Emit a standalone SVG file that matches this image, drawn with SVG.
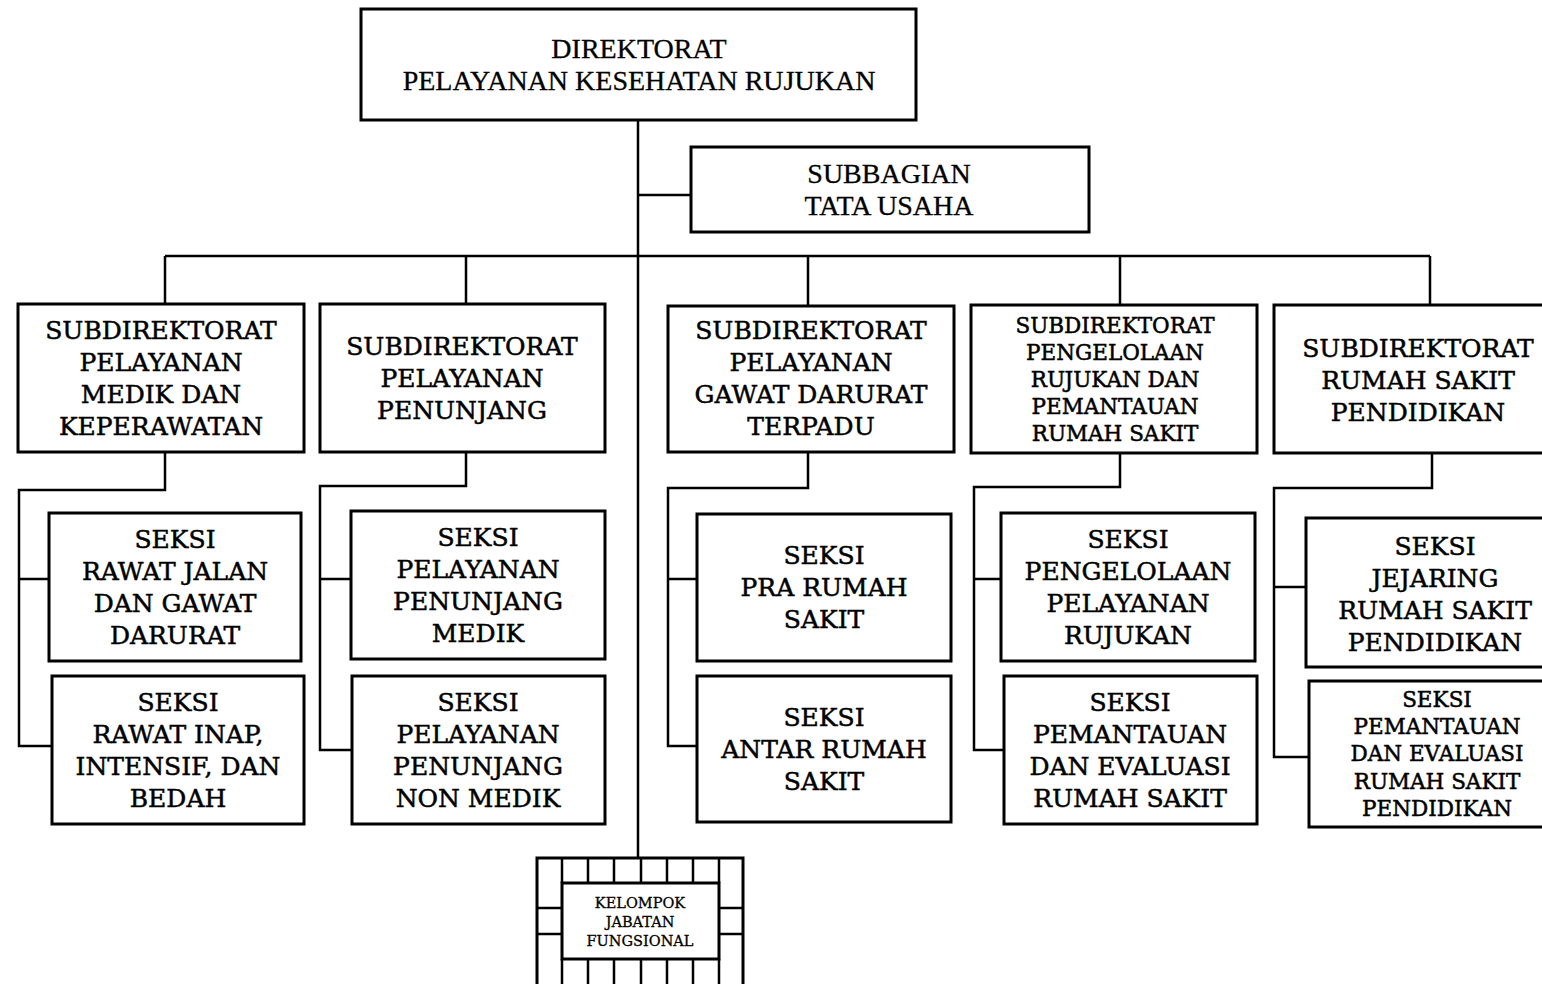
<svg xmlns="http://www.w3.org/2000/svg" width="1542" height="984" viewBox="0 0 1542 984">
<style>
.box{fill:#fff;stroke:#000;stroke-width:3}
.ln{fill:none;stroke:#000;stroke-width:2.5}
text{font-family:"DejaVu Serif","Liberation Serif",serif;fill:#000;stroke:#000;stroke-width:0.5;text-anchor:middle;dominant-baseline:central}
.t{font-size:25px}
.s{font-size:21.5px}
.hd{font-family:"Liberation Serif",serif;font-size:28px;stroke-width:0.3}
.k{font-size:14.5px;stroke-width:0.3}
</style>
<rect width="1542" height="984" fill="#fff"/>
<g id="connectors">
<path class="ln" d="M638 120V858"/>
<path class="ln" d="M638 195H691"/>
<path class="ln" d="M165 256H1430M165 256V304M466 256V304M808 256V306M1120 256V305M1430 256V305"/>
<path class="ln" d="M165 452V490H19V746H52M19 579H49"/>
<path class="ln" d="M466 452V486H320V750H352M320 579H351"/>
<path class="ln" d="M808 452V488H668V746H697M668 579H697"/>
<path class="ln" d="M1120 453V487H974V750H1004M974 579H1001"/>
<path class="ln" d="M1432 453V488H1274V757H1309M1274 587H1306"/>
</g>
<g id="direktorat">
<rect class="box" x="361" y="9" width="555" height="111"/>
<text class="hd" x="639" y="48">DIREKTORAT</text>
<text class="hd" x="639" y="80">PELAYANAN KESEHATAN RUJUKAN</text>
</g>
<g id="subbagian">
<rect class="box" x="691" y="147" width="398" height="85"/>
<text class="hd" x="889" y="173">SUBBAGIAN</text>
<text class="hd" x="889" y="205">TATA USAHA</text>
</g>
<g id="subdit1">
<rect class="box" x="18" y="304" width="286" height="148"/>
<text class="t" x="161" y="330">SUBDIREKTORAT</text>
<text class="t" x="161" y="362">PELAYANAN</text>
<text class="t" x="161" y="394">MEDIK DAN</text>
<text class="t" x="161" y="426">KEPERAWATAN</text>
</g>
<g id="subdit2">
<rect class="box" x="320" y="304" width="285" height="148"/>
<text class="t" x="462" y="346">SUBDIREKTORAT</text>
<text class="t" x="462" y="378">PELAYANAN</text>
<text class="t" x="462" y="410">PENUNJANG</text>
</g>
<g id="subdit3">
<rect class="box" x="668" y="306" width="286" height="146"/>
<text class="t" x="811" y="330">SUBDIREKTORAT</text>
<text class="t" x="811" y="362">PELAYANAN</text>
<text class="t" x="811" y="394">GAWAT DARURAT</text>
<text class="t" x="811" y="426">TERPADU</text>
</g>
<g id="subdit4">
<rect class="box" x="971" y="305" width="286" height="148"/>
<text class="s" x="1115" y="325">SUBDIREKTORAT</text>
<text class="s" x="1115" y="352">PENGELOLAAN</text>
<text class="s" x="1115" y="379">RUJUKAN DAN</text>
<text class="s" x="1115" y="406">PEMANTAUAN</text>
<text class="s" x="1115" y="433">RUMAH SAKIT</text>
</g>
<g id="subdit5">
<rect class="box" x="1274" y="305" width="290" height="148"/>
<text class="t" x="1418" y="348">SUBDIREKTORAT</text>
<text class="t" x="1418" y="380">RUMAH SAKIT</text>
<text class="t" x="1418" y="412">PENDIDIKAN</text>
</g>
<g id="seksi1a">
<rect class="box" x="49" y="513" width="252" height="148"/>
<text class="t" x="175" y="539">SEKSI</text>
<text class="t" x="175" y="571">RAWAT JALAN</text>
<text class="t" x="175" y="603">DAN GAWAT</text>
<text class="t" x="175" y="635">DARURAT</text>
</g>
<g id="seksi1b">
<rect class="box" x="52" y="676" width="252" height="148"/>
<text class="t" x="178" y="702">SEKSI</text>
<text class="t" x="178" y="734">RAWAT INAP,</text>
<text class="t" x="178" y="766">INTENSIF, DAN</text>
<text class="t" x="178" y="798">BEDAH</text>
</g>
<g id="seksi2a">
<rect class="box" x="351" y="511" width="254" height="148"/>
<text class="t" x="478" y="537">SEKSI</text>
<text class="t" x="478" y="569">PELAYANAN</text>
<text class="t" x="478" y="601">PENUNJANG</text>
<text class="t" x="478" y="633">MEDIK</text>
</g>
<g id="seksi2b">
<rect class="box" x="352" y="676" width="253" height="148"/>
<text class="t" x="478" y="702">SEKSI</text>
<text class="t" x="478" y="734">PELAYANAN</text>
<text class="t" x="478" y="766">PENUNJANG</text>
<text class="t" x="478" y="798">NON MEDIK</text>
</g>
<g id="seksi3a">
<rect class="box" x="697" y="514" width="254" height="147"/>
<text class="t" x="824" y="555">SEKSI</text>
<text class="t" x="824" y="587">PRA RUMAH</text>
<text class="t" x="824" y="619">SAKIT</text>
</g>
<g id="seksi3b">
<rect class="box" x="697" y="676" width="254" height="146"/>
<text class="t" x="824" y="717">SEKSI</text>
<text class="t" x="824" y="749">ANTAR RUMAH</text>
<text class="t" x="824" y="781">SAKIT</text>
</g>
<g id="seksi4a">
<rect class="box" x="1001" y="513" width="254" height="148"/>
<text class="t" x="1128" y="539">SEKSI</text>
<text class="t" x="1128" y="571">PENGELOLAAN</text>
<text class="t" x="1128" y="603">PELAYANAN</text>
<text class="t" x="1128" y="635">RUJUKAN</text>
</g>
<g id="seksi4b">
<rect class="box" x="1004" y="676" width="253" height="148"/>
<text class="t" x="1130" y="702">SEKSI</text>
<text class="t" x="1130" y="734">PEMANTAUAN</text>
<text class="t" x="1130" y="766">DAN EVALUASI</text>
<text class="t" x="1130" y="798">RUMAH SAKIT</text>
</g>
<g id="seksi5a">
<rect class="box" x="1306" y="518" width="256" height="149"/>
<text class="t" x="1435" y="546">SEKSI</text>
<text class="t" x="1435" y="578">JEJARING</text>
<text class="t" x="1435" y="610">RUMAH SAKIT</text>
<text class="t" x="1435" y="642">PENDIDIKAN</text>
</g>
<g id="seksi5b">
<rect class="box" x="1309" y="681" width="253" height="146"/>
<text class="s" x="1437" y="699">SEKSI</text>
<text class="s" x="1437" y="726">PEMANTAUAN</text>
<text class="s" x="1437" y="753">DAN EVALUASI</text>
<text class="s" x="1437" y="781">RUMAH SAKIT</text>
<text class="s" x="1437" y="808">PENDIDIKAN</text>
</g>
<g id="kelompok">
<rect class="box" x="537" y="858" width="206" height="130"/>
<rect class="box" x="562" y="883" width="157" height="76"/>
<path class="ln" d="M562 858V883M588 858V883M614 858V883M641 858V883M667 858V883M693 858V883M719 858V883M562 959V986M588 959V986M614 959V986M641 959V986M667 959V986M693 959V986M719 959V986M537 908H562M537 934H562M719 908H743M719 934H743"/>
<text class="k" x="640" y="903">KELOMPOK</text>
<text class="k" x="640" y="922">JABATAN</text>
<text class="k" x="640" y="941">FUNGSIONAL</text>
</g>
</svg>
